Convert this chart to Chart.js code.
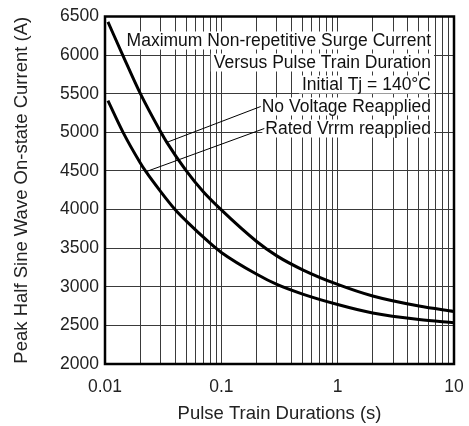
<!DOCTYPE html>
<html>
<head>
<meta charset="utf-8">
<script src="https://cdn.jsdelivr.net/npm/chart.js@4.4.1/dist/chart.umd.min.js"></script>
<style>
  html, body { margin: 0; padding: 0; background: #fff; }
  #wrap { width: 469px; height: 426px; }
</style>
</head>
<body>
<div id="wrap"><canvas id="chart"></canvas></div>
<script>
// curve: no voltage reapplied
const noVoltageX = [0.0106, 0.0142, 0.02, 0.03, 0.034, 0.05, 0.07, 0.1, 0.2, 0.3, 0.5, 1, 2, 5, 10];
const noVoltageY = [6430, 6000, 5510, 5010, 4870, 4500, 4230, 3995, 3590, 3400, 3220, 3030, 2880, 2750, 2680];
// rated Vrrm reapplied
const ratedX = [0.0106, 0.0143, 0.02, 0.0225, 0.03, 0.04, 0.05, 0.08, 0.1, 0.2, 0.3, 0.5, 1, 2, 5, 10];
const ratedY = [5410, 5000, 4610, 4490, 4235, 4000, 3850, 3565, 3445, 3165, 3030, 2905, 2770, 2660, 2575, 2535];

const xTickValues = [0.01, 0.1, 1, 10];
const xTickLabels = ['0.01', '0.1', '1', '10'];
const xMinorSteps = [2, 3, 4, 5, 6, 7, 8, 9];
const yTickValues = [2000, 2500, 3000, 3500, 4000, 4500, 5000, 5500, 6000, 6500];
const yTickLabels = ['2000', '2500', '3000', '3500', '4000', '4500', '5000', '5500', '6000', '6500'];

const noteLines = [
    'Maximum Non-repetitive Surge Current',
    'Versus Pulse Train Duration',
    'Initial Tj = 140°C',
    'No Voltage Reapplied',
    'Rated Vrrm reapplied',
];
// which note line points at which curve point (dataset, point index)
const leaders = [
    { line: 3, dataset: 0, point: 4 },
    { line: 4, dataset: 1, point: 3 },
];

const FONT = '"Liberation Sans", Arial, sans-serif';

const toPoints = (xs, ys) => xs.map((x, i) => ({ x: x, y: ys[i] }));

const notesPlugin = {
    id: 'notes',
    afterDatasetsDraw(chart) {
        const { ctx, chartArea: a } = chart;
        ctx.save();
        ctx.font = '17.5px ' + FONT;
        ctx.textAlign = 'right';
        ctx.textBaseline = 'alphabetic';
        const right = a.right - 23;
        const lefts = [];
        noteLines.forEach((text, i) => {
            const base = a.top + 29 + i * 22;
            const w = ctx.measureText(text).width;
            lefts.push({ x: right - w, y: base });
            ctx.fillStyle = '#fff';
            ctx.fillRect(right - w - 3, base - 14, w + 6, 18);
            ctx.fillStyle = '#111';
            ctx.fillText(text, right, base);
        });

        ctx.strokeStyle = '#000';
        ctx.lineWidth = 1;
        leaders.forEach(l => {
            const pt = chart.getDatasetMeta(l.dataset).data[l.point];
            const start = lefts[l.line];
            ctx.beginPath();
            ctx.moveTo(start.x - 1, start.y - 5);
            ctx.lineTo(pt.x, pt.y);
            ctx.stroke();
        });

        // plot frame
        ctx.lineWidth = 2.5;
        ctx.strokeRect(a.left, a.top, a.right - a.left, a.bottom - a.top);
        ctx.restore();
    },
};

const ctx = document.getElementById('chart').getContext('2d');

new Chart(ctx, {
    type: 'line',
    data: {
        datasets: [
            {
                label: 'No Voltage Reapplied',
                data: toPoints(noVoltageX, noVoltageY),
                borderColor: '#000',
                borderWidth: 3,
                pointRadius: 0,
                cubicInterpolationMode: 'monotone',
                fill: false,
            },
            {
                label: 'Rated Vrrm reapplied',
                data: toPoints(ratedX, ratedY),
                borderColor: '#000',
                borderWidth: 3,
                pointRadius: 0,
                cubicInterpolationMode: 'monotone',
                fill: false,
            },
        ],
    },
    options: {
        responsive: true,
        maintainAspectRatio: false,
        animation: false,
        layout: { padding: { top: 15, right: 15, left: 0, bottom: 0 } },
        plugins: {
            legend: { display: false },
            tooltip: { enabled: false },
        },
        scales: {
            x: {
                type: 'logarithmic',
                min: 0.01,
                max: 10,
                afterBuildTicks: (scale) => {
                    const ticks = [];
                    xTickValues.forEach((v, i) => {
                        ticks.push({ value: v, major: true });
                        if (i < xTickValues.length - 1) {
                            xMinorSteps.forEach(m => ticks.push({ value: v * m }));
                        }
                    });
                    scale.ticks = ticks;
                },
                afterFit: (scale) => {
                    scale.height = 62;
                    scale.paddingLeft = 0;
                    scale.paddingRight = 0;
                },
                grid: { color: '#3a3a3a', lineWidth: 1, drawTicks: false },
                border: { display: false },
                ticks: {
                    autoSkip: false,
                    maxRotation: 0,
                    padding: 13,
                    color: '#222',
                    font: { family: FONT, size: 17.5 },
                    callback: (value) => {
                        const i = xTickValues.indexOf(value);
                        return i >= 0 ? xTickLabels[i] : '';
                    },
                },
                title: {
                    display: true,
                    text: 'Pulse Train Durations (s)',
                    color: '#222',
                    font: { family: FONT, size: 18.5 },
                    padding: { top: 0, bottom: 1 },
                },
            },
            y: {
                type: 'linear',
                min: 2000,
                max: 6500,
                afterBuildTicks: (scale) => {
                    scale.ticks = yTickValues.map(v => ({ value: v }));
                },
                afterFit: (scale) => { scale.width = 105; },
                grid: { color: '#3a3a3a', lineWidth: 1, drawTicks: false },
                border: { display: false },
                ticks: {
                    padding: 6,
                    color: '#222',
                    font: { family: FONT, size: 17.5 },
                    callback: (value) => yTickLabels[yTickValues.indexOf(value)],
                },
                title: {
                    display: true,
                    text: 'Peak Half Sine Wave On-state Current (A)',
                    color: '#222',
                    font: { family: FONT, size: 18.5 },
                    padding: { top: 11, bottom: 0 },
                },
            },
        },
    },
    plugins: [notesPlugin],
});
</script>
</body>
</html>
